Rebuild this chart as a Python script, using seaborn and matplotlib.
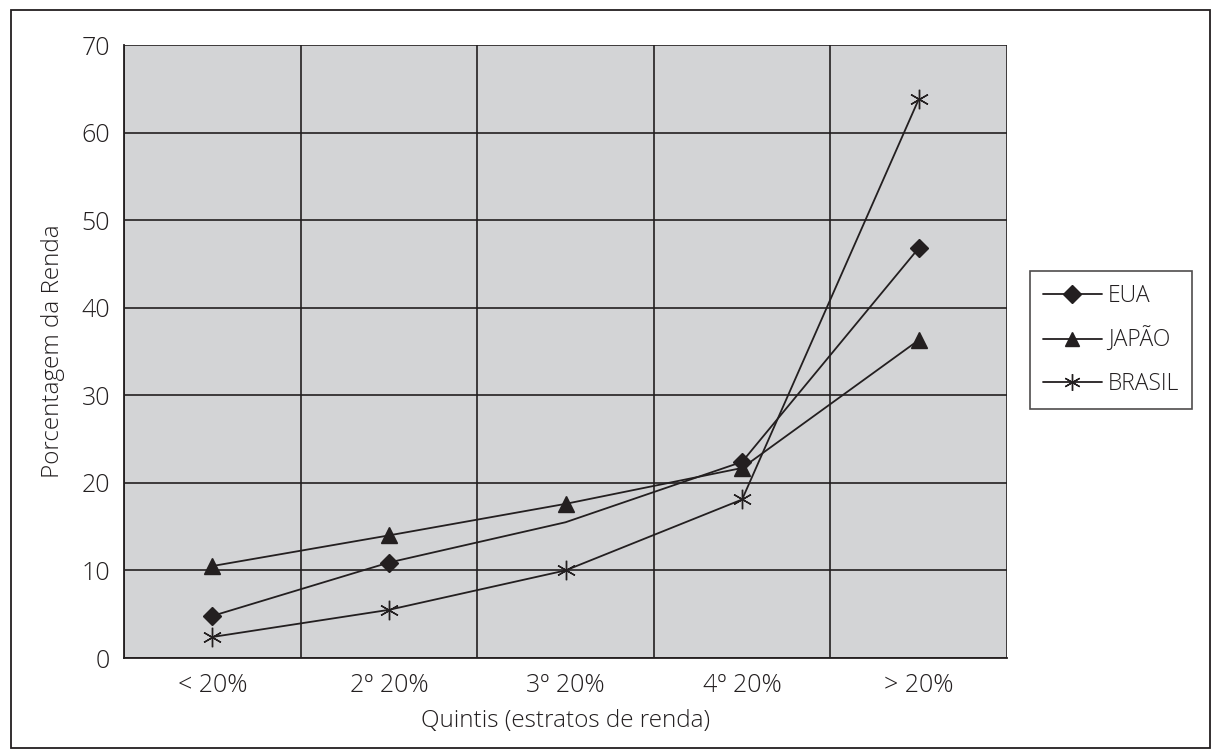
import matplotlib
matplotlib.use("Agg")
import matplotlib.pyplot as plt
import seaborn as sns
import pandas as pd
from matplotlib.patches import Rectangle
from matplotlib.lines import Line2D

categories = ["< 20%", "2º 20%", "3º 20%", "4º 20%", "> 20%"]
eua = [4.8, 10.9, 15.5, 22.4, 46.8]
japao = [10.5, 14.0, 17.6, 21.7, 36.3]
brasil = [2.4, 5.5, 10.0, 18.1, 63.8]
series_names = ["EUA", "JAPÃO", "BRASIL"]
yticks = [0, 10, 20, 30, 40, 50, 60, 70]

rows = []
for name, vals in zip(series_names, [eua, japao, brasil]):
    for i, (c, v) in enumerate(zip(categories, vals)):
        rows.append({"pos": i, "cat": c, "valor": v, "pais": name})
df = pd.DataFrame(rows)

sns.set_style("white")
plt.rcParams['font.family'] = ['Open Sans', 'DejaVu Sans']
plt.rcParams['font.weight'] = 'light'
plt.rcParams['axes.labelweight'] = 'light'

INK = "#231f20"
fig = plt.figure(figsize=(12.12, 7.49), dpi=100)
ax = fig.add_axes([124/1212, 1-658/749, (1007-124)/1212, (658-45)/749])
ax.set_facecolor("#d3d4d6")

markers = {"EUA": "D", "JAPÃO": "^", "BRASIL": (6, 2, 0)}
msizes = {"EUA": 9, "JAPÃO": 11, "BRASIL": 14}
markevery = {"EUA": [0, 1, 3, 4], "JAPÃO": None, "BRASIL": None}
for n in series_names:
    sub = df[df["pais"] == n]
    sns.lineplot(data=sub, x="pos", y="valor", ax=ax, color=INK,
                 marker=markers[n], markersize=msizes[n], markeredgewidth=1.0,
                 markeredgecolor=INK, markerfacecolor=INK,
                 markevery=markevery[n], linewidth=1.3, legend=False, zorder=3)

ax.set_xlim(-0.5, 4.5)
ax.set_ylim(0, 70)
ax.set_yticks(yticks)
ax.set_xticks(range(len(categories)))
ax.set_xticklabels(categories)
ax.set_xticks([-0.5 + k for k in range(6)], minor=True)
ax.tick_params(axis="x", which="major", length=0, labelsize=18, pad=11, colors=INK)
ax.tick_params(axis="x", which="minor", length=8, width=1.2, direction="out", color=INK)
ax.tick_params(axis="y", length=7, width=1.2, direction="out", labelsize=18, colors=INK, pad=3)
ax.grid(True, which="minor", axis="x", color=INK, linewidth=1.2)
ax.grid(True, which="major", axis="y", color=INK, linewidth=1.2)
ax.grid(False, which="major", axis="x")
ax.set_axisbelow(True)
for side in ["top", "right"]:
    ax.spines[side].set_visible(False)
for side in ["left", "bottom"]:
    ax.spines[side].set_color(INK)
    ax.spines[side].set_linewidth(1.3)
ax.set_xlabel("Quintis (estratos de renda)", fontsize=17.5, color=INK, labelpad=8,
              fontweight="light")
ax.set_ylabel("Porcentagem da Renda", fontsize=17.5, color=INK, labelpad=12,
              fontweight="light")

handles = [Line2D([], [], color=INK, marker=markers[n],
                  markersize={"EUA": 9, "JAPÃO": 10, "BRASIL": 12}[n],
                  linewidth=1.3, markeredgewidth=1.0) for n in series_names]
leg = fig.legend(handles, series_names, loc="center left",
                 bbox_to_anchor=(1030/1212, 1-340/749), borderaxespad=0,
                 fontsize=16.5, frameon=True, fancybox=False, edgecolor=INK,
                 handlelength=2.6, borderpad=0.55, labelspacing=0.85, handletextpad=0.25)
leg.get_frame().set_linewidth(1.2)
for t in leg.get_texts():
    t.set_color(INK)

fig.patches.append(Rectangle((11/1212, 1/749), (1210-11)/1212, 738/749,
                             transform=fig.transFigure, fill=False,
                             edgecolor=INK, linewidth=1.3))

fig.savefig("out.png", dpi=100)
